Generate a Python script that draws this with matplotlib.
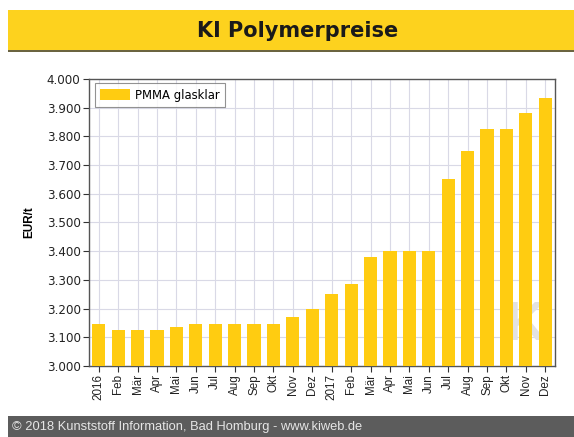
import matplotlib
matplotlib.use("Agg")
import matplotlib.pyplot as plt
from matplotlib.patches import Rectangle
from matplotlib.ticker import FuncFormatter, MultipleLocator

months = ["2016", "Feb", "Mär", "Apr", "Mai", "Jun", "Jul", "Aug", "Sep", "Okt", "Nov", "Dez",
          "2017", "Feb", "Mär", "Apr", "Mai", "Jun", "Jul", "Aug", "Sep", "Okt", "Nov", "Dez"]
pmma = [3145, 3125, 3125, 3125, 3135, 3145, 3145, 3145, 3145, 3145, 3170, 3200,
        3250, 3285, 3380, 3400, 3400, 3400, 3650, 3750, 3825, 3825, 3880, 3935]

W, H = 574, 437
fig = plt.figure(figsize=(W / 100, H / 100), dpi=100)
fig.patch.set_facecolor("white")

# title band
fig.patches.append(Rectangle((8 / W, 1 - 50 / H), 1 - 8 / W, 40 / H, transform=fig.transFigure,
                             facecolor="#FDD21E", edgecolor="none", zorder=0))
fig.patches.append(Rectangle((8 / W, 1 - 52 / H), 1 - 8 / W, 2 / H, transform=fig.transFigure,
                             facecolor="#6b6440", edgecolor="none", zorder=0))
fig.text(298 / W, 1 - 31 / H, "KI Polymerpreise", ha="center", va="center",
         fontsize=15, fontweight="bold", family="DejaVu Sans", color="#1a1a1a")

# footer band
fig.patches.append(Rectangle((8 / W, 0), 1 - 8 / W, 21 / H, transform=fig.transFigure,
                             facecolor="#5c5c5c", edgecolor="none", zorder=0))
fig.text(12 / W, 10 / H, "© 2018 Kunststoff Information, Bad Homburg - www.kiweb.de",
         ha="left", va="center", fontsize=9.3, family="Liberation Sans", color="#e6e6e6")

ax = fig.add_axes([89 / W, 1 - 366 / H, (555 - 89) / W, (366 - 79) / H])
x = list(range(len(months)))
bars = ax.bar(x, [v - 3000 for v in pmma], bottom=3000, width=0.68, color="#FFCC11",
              edgecolor="none", zorder=3, label="PMMA glasklar")

ax.text(21.95, 3140, "K", fontsize=40, fontweight="bold", color="#e2e2e2",
        ha="center", va="center", zorder=2, family="Liberation Sans")

ax.set_xlim(-0.5, len(months) - 0.5)
ax.set_ylim(3000, 4000)
ax.yaxis.set_major_locator(MultipleLocator(100))
ax.yaxis.set_major_formatter(FuncFormatter(lambda v, p: f"{int(v):,}".replace(",", ".")))
ax.set_xticks(x)
ax.set_xticklabels(months, rotation=90, family="Liberation Sans", fontsize=8.4, color="#222222")
for lbl in ax.get_yticklabels():
    lbl.set_family("DejaVu Sans")
    lbl.set_fontsize(8.6)
    lbl.set_color("#222222")
ax.tick_params(axis="both", direction="out", length=4, width=0.8, color="#333333", pad=2)
ax.grid(True, color="#d9d9e6", linewidth=0.8, zorder=0)
ax.set_axisbelow(True)
for s in ax.spines.values():
    s.set_color("#555555")
    s.set_linewidth(1.0)

ax.set_ylabel("EUR/t", fontsize=8.4, fontweight="bold", family="Liberation Sans", labelpad=8)

leg = ax.legend(loc="upper left", bbox_to_anchor=(0.012, 0.985), frameon=True, fancybox=False,
                prop={"family": "DejaVu Sans", "size": 8.4}, handlelength=2.6, handleheight=1.0,
                borderpad=0.45, handletextpad=0.4, borderaxespad=0)
leg.get_frame().set_edgecolor("#777777")
leg.get_frame().set_linewidth(0.8)

fig.savefig("out.png", dpi=100)
